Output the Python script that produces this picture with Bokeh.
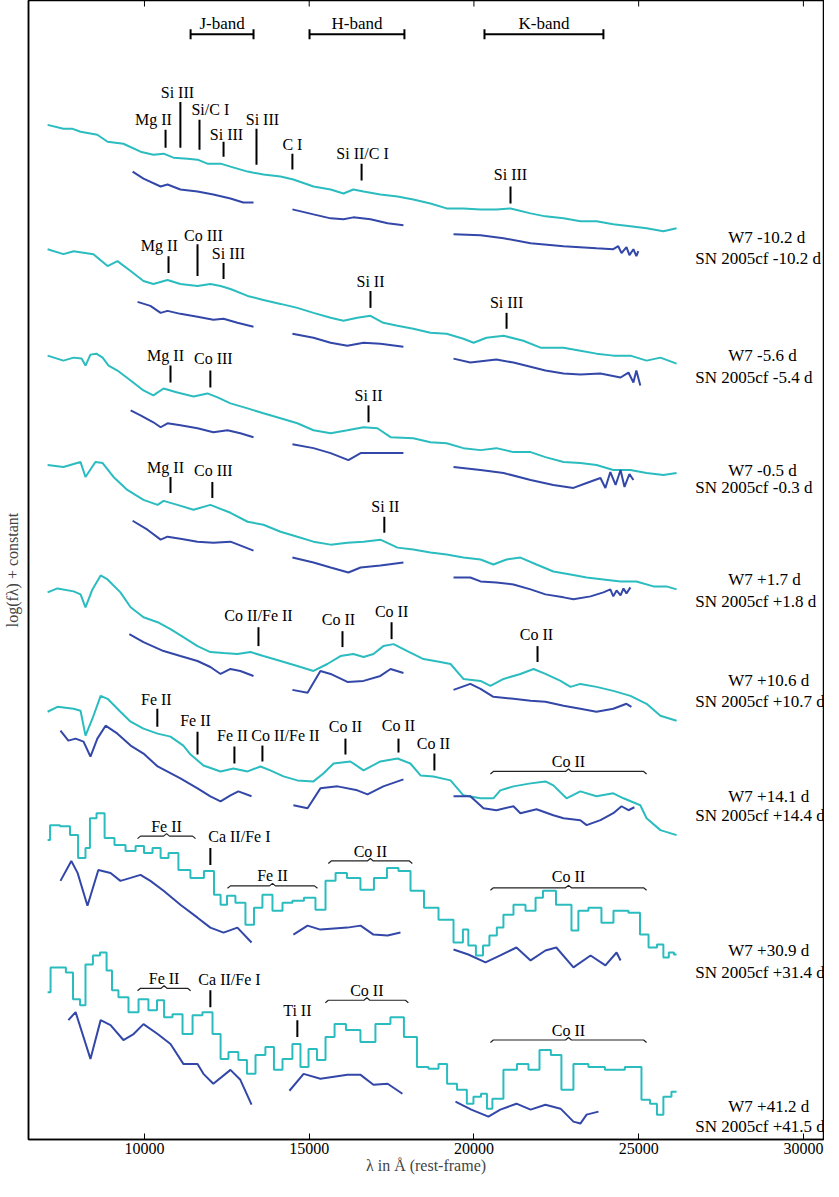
from bokeh.plotting import figure
from bokeh.models import Range1d, FixedTicker
from bokeh.core.properties import value
from bokeh.embed import file_html
from bokeh.resources import INLINE

CYAN = "#2bbcbf"
BLUE = "#3347a8"
FONT = "Liberation Serif"

XTICKS = [10000, 15000, 20000, 25000, 30000]

# ---------------- W7 model spectra (cyan) ----------------
M1_WAVE = [7060, 7540, 7820, 8060, 8570, 8880, 9360, 9880, 10270, 10580, 10880, 11310, 11610, 11910, 12310, 12610, 13130, 13610, 14130, 14520, 15130, 15650, 16040, 16340, 16650, 17160, 17680, 18160, 18680, 19170, 19680, 20200, 20680, 21110, 21720, 22170, 22720, 23230, 23720, 24230, 24750, 25240, 25750, 26150]
M1_FLUX = [10.20, 10.16, 10.16, 10.13, 10.10, 10.03, 10.01, 9.93, 9.90, 9.91, 9.87, 9.86, 9.85, 9.81, 9.81, 9.78, 9.73, 9.70, 9.68, 9.65, 9.58, 9.55, 9.51, 9.55, 9.53, 9.50, 9.48, 9.45, 9.41, 9.36, 9.36, 9.35, 9.35, 9.36, 9.31, 9.28, 9.26, 9.23, 9.23, 9.20, 9.18, 9.16, 9.13, 9.16]

M2_WAVE = [7060, 7540, 7850, 8450, 8880, 9180, 9580, 9970, 10270, 10700, 11090, 11610, 12000, 12310, 12610, 13130, 13610, 14130, 14640, 15130, 15650, 16040, 16460, 16860, 17250, 17680, 18160, 18680, 19170, 19680, 19990, 20380, 20900, 21500, 22020, 22720, 23230, 23720, 24230, 24750, 25240, 25660, 26150]
M2_FLUX = [8.95, 8.90, 8.93, 8.90, 8.78, 8.83, 8.73, 8.63, 8.60, 8.64, 8.60, 8.58, 8.60, 8.58, 8.55, 8.48, 8.44, 8.40, 8.36, 8.31, 8.26, 8.23, 8.26, 8.28, 8.21, 8.18, 8.15, 8.11, 8.10, 8.05, 8.01, 8.06, 8.08, 8.03, 7.96, 7.96, 7.93, 7.90, 7.88, 7.88, 7.83, 7.86, 7.80]

M3_WAVE = [7060, 7540, 7850, 8090, 8210, 8360, 8540, 8730, 8910, 9180, 9580, 9970, 10270, 10580, 11000, 11490, 11910, 12220, 12610, 13130, 13610, 14130, 14640, 15130, 15650, 16160, 16650, 17070, 17470, 18160, 18680, 19170, 19680, 20200, 20680, 21200, 21720, 22170, 22720, 23230, 23720, 24230, 24750, 25240, 25750, 26150]
M3_FLUX = [7.88, 7.83, 7.86, 7.85, 7.78, 7.89, 7.90, 7.86, 7.78, 7.73, 7.63, 7.53, 7.48, 7.55, 7.51, 7.47, 7.50, 7.46, 7.40, 7.35, 7.30, 7.25, 7.20, 7.13, 7.10, 7.13, 7.16, 7.15, 7.06, 7.05, 7.01, 7.00, 6.95, 6.93, 6.95, 6.91, 6.91, 6.86, 6.81, 6.80, 6.78, 6.73, 6.73, 6.70, 6.68, 6.70]

M4_WAVE = [7060, 7540, 8060, 8210, 8510, 8730, 9060, 9480, 9970, 10400, 10580, 11000, 11490, 12000, 12610, 13130, 13610, 14130, 14640, 15130, 15650, 16160, 16650, 17160, 17680, 18160, 18680, 19170, 19680, 20200, 20590, 20990, 21410, 21900, 22410, 22930, 23420, 23930, 24450, 24930, 25450, 25840, 26150]
M4_FLUX = [6.78, 6.76, 6.81, 6.66, 6.81, 6.80, 6.66, 6.53, 6.43, 6.38, 6.42, 6.38, 6.33, 6.38, 6.30, 6.21, 6.18, 6.11, 6.06, 6.01, 5.98, 6.00, 6.01, 6.03, 5.95, 5.93, 5.90, 5.88, 5.85, 5.83, 5.78, 5.83, 5.85, 5.78, 5.71, 5.68, 5.65, 5.63, 5.61, 5.61, 5.56, 5.56, 5.53]

M5_WAVE = [7060, 7360, 7850, 8060, 8210, 8420, 8670, 8880, 9270, 9580, 9970, 10400, 10790, 11180, 11610, 12000, 12400, 12820, 13220, 13610, 14130, 14640, 15130, 15550, 15950, 16340, 16650, 16950, 17250, 17560, 17980, 18470, 18980, 19290, 19680, 20200, 20500, 20900, 21410, 21810, 22170, 22630, 22930, 23230, 23720, 24230, 24750, 25240, 25660, 26150]
M5_FLUX = [5.50, 5.54, 5.51, 5.48, 5.35, 5.53, 5.67, 5.63, 5.50, 5.35, 5.25, 5.20, 5.13, 5.05, 4.96, 4.90, 4.89, 4.88, 4.90, 4.86, 4.81, 4.76, 4.71, 4.78, 4.86, 4.88, 4.85, 4.88, 4.96, 4.98, 4.91, 4.83, 4.80, 4.78, 4.63, 4.61, 4.56, 4.63, 4.68, 4.73, 4.68, 4.61, 4.55, 4.58, 4.55, 4.51, 4.46, 4.38, 4.26, 4.21]

M6_WAVE = [7060, 7360, 7850, 8060, 8210, 8420, 8670, 8880, 9270, 9580, 9970, 10400, 10790, 11180, 11400, 11790, 12310, 12700, 13130, 13520, 13820, 14220, 14640, 15130, 15430, 15740, 16250, 16650, 17160, 17680, 18070, 18380, 18770, 19290, 19680, 20200, 20590, 20800, 21200, 21720, 22170, 22410, 22810, 23230, 23720, 24230, 24540, 25050, 25240, 25660, 26150]
M6_FLUX = [4.30, 4.35, 4.33, 4.31, 4.06, 4.23, 4.46, 4.43, 4.30, 4.20, 4.13, 4.08, 4.05, 3.96, 3.87, 3.76, 3.70, 3.73, 3.70, 3.75, 3.71, 3.65, 3.61, 3.60, 3.68, 3.78, 3.80, 3.71, 3.80, 3.83, 3.78, 3.66, 3.65, 3.61, 3.46, 3.43, 3.43, 3.51, 3.55, 3.58, 3.60, 3.56, 3.43, 3.50, 3.45, 3.48, 3.43, 3.36, 3.23, 3.11, 3.06]

M7_WAVE = [7060, 7210, 7660, 7820, 8150, 8270, 8420, 8670, 8910, 9270, 9580, 9880, 10090, 10400, 10580, 10880, 11180, 11610, 12000, 12220, 12400, 12610, 12910, 13220, 13430, 13730, 14040, 14340, 14640, 15040, 15340, 15650, 15950, 16340, 16770, 17160, 17560, 17860, 18290, 18680, 19170, 19590, 19740, 19920, 20200, 20350, 20590, 20800, 20990, 21410, 21720, 22020, 22170, 22810, 23110, 23230, 23720, 24020, 24450, 24930, 25150, 25450, 25660, 25840, 25990, 26150]
M7_FLUX = [3.01, 3.16, 3.15, 3.06, 2.83, 2.93, 3.23, 3.28, 3.03, 2.96, 2.90, 2.95, 2.88, 2.93, 2.83, 2.88, 2.71, 2.63, 2.70, 2.46, 2.36, 2.45, 2.38, 2.16, 2.33, 2.46, 2.30, 2.38, 2.40, 2.43, 2.31, 2.60, 2.68, 2.63, 2.51, 2.63, 2.73, 2.70, 2.50, 2.33, 2.21, 1.98, 2.11, 1.95, 1.85, 1.95, 2.05, 2.13, 2.26, 2.36, 2.30, 2.43, 2.50, 2.36, 2.10, 2.30, 2.33, 2.18, 2.30, 2.28, 2.06, 1.93, 1.96, 1.83, 1.88, 1.86]

M8_WAVE = [7060, 7240, 7540, 7690, 7970, 8120, 8300, 8570, 8730, 8970, 9060, 9360, 9670, 9970, 10270, 10490, 10700, 11000, 11310, 11610, 11910, 12220, 12400, 12700, 13000, 13220, 13520, 13820, 14040, 14340, 14640, 14830, 15130, 15340, 15650, 15890, 16340, 16770, 17250, 17680, 18070, 18470, 18770, 19080, 19290, 19680, 19890, 20080, 20350, 20440, 20680, 21110, 21500, 21810, 22170, 22500, 22810, 23230, 23720, 24230, 24930, 25240, 25450, 25660, 25840, 26150]
M8_FLUX = [1.48, 1.73, 1.73, 1.68, 1.41, 1.35, 1.76, 1.85, 1.88, 1.70, 1.50, 1.43, 1.28, 1.41, 1.30, 1.40, 1.23, 1.26, 1.06, 1.25, 1.28, 1.06, 0.81, 0.88, 0.80, 0.66, 0.85, 0.93, 0.70, 0.81, 0.96, 0.73, 0.91, 0.80, 1.03, 1.16, 1.10, 0.98, 1.16, 1.23, 1.03, 0.73, 0.71, 0.76, 0.56, 0.50, 0.36, 0.43, 0.46, 0.31, 0.41, 0.70, 0.76, 0.70, 0.90, 0.85, 0.50, 0.76, 0.73, 0.70, 0.73, 0.40, 0.36, 0.25, 0.43, 0.48]

# histogram (step) look is strongest in the late-time models
MODEL_STEPPED = [False, False, False, False, False, False, True, True]

# ---------------- SN 2005cf observed spectra (blue), J / H / K segments ----------------
O1_J_WAVE = [9640, 9970, 10490, 10700, 11090, 11610, 12090, 12610, 13000, 13310]
O1_J_FLUX = [9.73, 9.66, 9.58, 9.60, 9.55, 9.53, 9.50, 9.46, 9.42, 9.42]
O1_H_WAVE = [14490, 15130, 15650, 16040, 16340, 16860, 17380, 17860]
O1_H_FLUX = [9.35, 9.30, 9.26, 9.25, 9.27, 9.25, 9.21, 9.19]
O1_K_WAVE = [19380, 20200, 20900, 21720, 22720, 23720, 24230, 24380, 24480, 24630, 24720, 24840, 24930, 24990]
O1_K_FLUX = [9.10, 9.09, 9.06, 9.01, 8.98, 8.96, 8.95, 8.98, 8.91, 8.97, 8.89, 8.95, 8.88, 8.93]

O2_J_WAVE = [9790, 10180, 10490, 10700, 11090, 11610, 12090, 12400, 12820, 13310]
O2_J_FLUX = [8.42, 8.38, 8.31, 8.33, 8.30, 8.27, 8.24, 8.25, 8.21, 8.17]
O2_H_WAVE = [14490, 15130, 15650, 16160, 16650, 17160, 17860]
O2_H_FLUX = [8.10, 8.06, 8.01, 7.98, 8.01, 8.00, 7.97]
O2_K_WAVE = [19380, 19890, 20680, 21200, 22170, 22720, 23230, 23840, 24450, 24690, 24840, 24930, 25050]
O2_K_FLUX = [7.85, 7.81, 7.84, 7.81, 7.73, 7.70, 7.69, 7.70, 7.66, 7.71, 7.61, 7.73, 7.58]

O3_J_WAVE = [9580, 9880, 10270, 10490, 10700, 11090, 11610, 12090, 12520, 12910, 13310]
O3_J_FLUX = [7.33, 7.28, 7.21, 7.16, 7.20, 7.18, 7.15, 7.11, 7.13, 7.10, 7.06]
O3_H_WAVE = [14490, 15130, 15650, 16190, 16560, 17160, 17860]
O3_H_FLUX = [6.99, 6.95, 6.90, 6.83, 6.90, 6.90, 6.90]
O3_K_WAVE = [19380, 20200, 20900, 21720, 22410, 23020, 23420, 23840, 23990, 24140, 24300, 24450, 24570, 24720, 24840]
O3_K_FLUX = [6.76, 6.73, 6.70, 6.63, 6.58, 6.55, 6.60, 6.65, 6.55, 6.71, 6.58, 6.73, 6.56, 6.69, 6.63]

O4_J_WAVE = [9640, 10090, 10490, 10700, 11090, 11610, 12090, 12610, 13000, 13310]
O4_J_FLUX = [6.22, 6.13, 6.03, 6.06, 6.04, 6.01, 6.00, 6.01, 5.96, 5.92]
O4_H_WAVE = [14490, 15130, 15650, 16190, 16560, 17160, 17860]
O4_H_FLUX = [5.85, 5.80, 5.75, 5.70, 5.75, 5.77, 5.80]
O4_K_WAVE = [19380, 19890, 20200, 20680, 21200, 21720, 22170, 22720, 23020, 23540, 23930, 24140, 24230, 24330, 24450, 24540, 24630, 24750]
O4_K_FLUX = [5.65, 5.65, 5.61, 5.60, 5.58, 5.53, 5.48, 5.45, 5.43, 5.46, 5.50, 5.53, 5.46, 5.52, 5.47, 5.54, 5.49, 5.55]

O5_J_WAVE = [9540, 9970, 10580, 11090, 11610, 12000, 12310, 12610, 12910, 13310]
O5_J_FLUX = [5.08, 5.00, 4.91, 4.86, 4.81, 4.75, 4.68, 4.73, 4.71, 4.66]
O5_H_WAVE = [14490, 14950, 15340, 15650, 16160, 16650, 17160, 17470, 17860]
O5_H_FLUX = [4.52, 4.49, 4.71, 4.68, 4.60, 4.61, 4.66, 4.73, 4.69]
O5_K_WAVE = [19380, 19890, 20200, 20590, 21200, 21720, 22170, 22720, 23230, 23720, 24230, 24630, 24780]
O5_K_FLUX = [4.52, 4.58, 4.53, 4.45, 4.43, 4.41, 4.40, 4.36, 4.33, 4.30, 4.33, 4.38, 4.35]

O6_J_WAVE = [7450, 7690, 7910, 8150, 8360, 8570, 8820, 9180, 9580, 9970, 10400, 11090, 11610, 12000, 12310, 12610, 12850, 13250]
O6_J_FLUX = [4.11, 4.01, 4.03, 4.00, 3.85, 4.03, 4.16, 4.08, 3.96, 3.88, 3.75, 3.63, 3.53, 3.45, 3.40, 3.46, 3.50, 3.45]
O6_H_WAVE = [14520, 14950, 15340, 15860, 16460, 16770, 17250, 17860]
O6_H_FLUX = [3.36, 3.33, 3.53, 3.55, 3.51, 3.47, 3.55, 3.62]
O6_K_WAVE = [19380, 19890, 20290, 20680, 21200, 21410, 21900, 22410, 22720, 23230, 23420, 23840, 24230, 24480, 24690, 24870]
O6_K_FLUX = [3.45, 3.45, 3.33, 3.31, 3.35, 3.28, 3.32, 3.26, 3.23, 3.21, 3.16, 3.21, 3.28, 3.35, 3.31, 3.34]

O7_J_WAVE = [7450, 7780, 7970, 8270, 8600, 8970, 9270, 9580, 9880, 10180, 10580, 11090, 11610, 12000, 12400, 12820, 13250]
O7_J_FLUX = [2.60, 2.80, 2.68, 2.35, 2.71, 2.68, 2.60, 2.63, 2.66, 2.60, 2.50, 2.36, 2.23, 2.13, 2.08, 2.13, 1.98]
O7_H_WAVE = [14520, 14950, 15340, 16160, 16560, 16950, 17380, 17770]
O7_H_FLUX = [2.06, 2.15, 2.11, 2.13, 2.15, 2.06, 2.05, 2.08]
O7_K_WAVE = [19380, 19830, 20350, 20800, 21290, 21720, 22170, 22500, 23020, 23540, 23990, 24330, 24450]
O7_K_FLUX = [1.91, 1.86, 1.78, 1.85, 1.93, 1.80, 1.90, 1.93, 1.73, 1.85, 1.75, 1.88, 1.80]

O8_J_WAVE = [7690, 7910, 8360, 8670, 8970, 9360, 9670, 9970, 10400, 10790, 11180, 11610, 11790, 12090, 12610, 12910, 13250]
O8_J_FLUX = [1.20, 1.28, 0.81, 1.20, 1.15, 1.00, 1.06, 1.16, 1.06, 0.96, 0.76, 0.76, 0.66, 0.56, 0.70, 0.60, 0.35]
O8_H_WAVE = [14400, 14830, 15340, 16160, 16560, 16950, 17380, 17830]
O8_H_FLUX = [0.49, 0.66, 0.61, 0.65, 0.65, 0.55, 0.56, 0.46]
O8_K_WAVE = [19440, 19920, 20440, 20800, 21290, 21720, 22170, 22630, 23020, 23230, 23420, 23780]
O8_K_FLUX = [0.38, 0.30, 0.23, 0.30, 0.36, 0.30, 0.35, 0.31, 0.18, 0.16, 0.25, 0.28]

# ---------------- epoch labels ----------------
MODEL_LABELS = ["W7 -10.2 d", "W7 -5.6 d", "W7 -0.5 d", "W7 +1.7 d", "W7 +10.6 d", "W7 +14.1 d", "W7 +30.9 d", "W7 +41.2 d"]
OBS_LABELS = ["SN 2005cf -10.2 d", "SN 2005cf -5.4 d", "SN 2005cf -0.3 d", "SN 2005cf +1.8 d", "SN 2005cf +10.7 d", "SN 2005cf +14.4 d", "SN 2005cf +31.4 d", "SN 2005cf +41.5 d"]
MODEL_LABEL_Y = [9.07, 7.88, 6.73, 5.63, 4.61, 3.45, 1.90, 0.33]
OBS_LABEL_Y = [8.86, 7.66, 6.55, 5.41, 4.40, 3.26, 1.68, 0.13]
MODEL_LABEL_X = 27720
OBS_LABEL_X = 26720

# ---------------- line identifications (single lines) ----------------
ID_TEXT = ["Mg II", "Si III", "Si/C I", "Si III", "Si III", "C I", "Si II/C I", "Si III",
           "Mg II", "Co III", "Si III", "Si II", "Si III",
           "Mg II", "Co III", "Si II",
           "Mg II", "Co III", "Si II",
           "Co II/Fe II", "Co II", "Co II", "Co II",
           "Fe II", "Fe II", "Fe II", "Co II/Fe II", "Co II", "Co II", "Co II",
           "Ca II/Fe I",
           "Ca II/Fe I", "Ti II"]
ID_TEXT_X = [10270, 11000, 12000, 12490, 13580, 14490, 16620, 21110,
             10450, 11790, 12550, 16860, 20990,
             10640, 12090, 16800,
             10640, 12090, 17310,
             13460, 15890, 17500, 21900,
             10360, 11550, 12670, 14280, 16100, 17710, 18770,
             12880,
             12580, 14640]
ID_TEXT_Y = [10.25, 10.53, 10.35, 10.10, 10.25, 10.00, 9.91, 9.70,
             8.99, 9.09, 8.91, 8.63, 8.41,
             7.88, 7.85, 7.48,
             6.76, 6.73, 6.36,
             5.27, 5.23, 5.31, 5.08,
             4.42, 4.21, 4.06, 4.06, 4.15, 4.16, 3.98,
             3.05,
             1.61, 1.30]
ID_TICK_X = [10640, 11090, 11670, 12400, 13400, 14490, 16590, 21110,
             10730, 11610, 12400, 16860, 20990,
             10790, 12000, 16800,
             10790, 12060, 17280,
             13460, 16010, 17500, 21930,
             10390, 11610, 12730, 13580, 16100, 17710, 18800,
             12000,
             12000, 14640]
ID_TICK_TOP = [10.15, 10.43, 10.25, 10.03, 10.16, 9.91, 9.81, 9.58,
               8.88, 9.00, 8.81, 8.53, 8.31,
               7.78, 7.73, 7.38,
               6.66, 6.61, 6.26,
               5.15, 5.11, 5.20, 4.96,
               4.33, 4.10, 3.95, 3.96, 4.03, 4.03, 3.88,
               2.93,
               1.50, 1.20]
ID_TICK_BOT = [9.97, 9.97, 9.95, 9.88, 9.80, 9.75, 9.64, 9.41,
               8.71, 8.68, 8.65, 8.36, 8.15,
               7.61, 7.56, 7.21,
               6.50, 6.45, 6.10,
               4.96, 4.95, 5.03, 4.80,
               4.15, 3.87, 3.78, 3.80, 3.87, 3.89, 3.71,
               2.76,
               1.33, 1.03]

# ---------------- blended features (braces) ----------------
BR_TEXT = ["Co II", "Fe II", "Fe II", "Co II", "Co II", "Fe II", "Co II", "Co II"]
BR_X0 = [20500, 9790, 12520, 15580, 20500, 9790, 15490, 20500]
BR_X1 = [25240, 11550, 15250, 18130, 25240, 11400, 18010, 25240]
BR_Y = [3.70, 3.05, 2.55, 2.80, 2.53, 1.52, 1.40, 1.00]
BR_TEXT_Y = [3.80, 3.15, 2.65, 2.90, 2.64, 1.62, 1.50, 1.10]

# ---------------- photometric bands ----------------
BAND_TEXT = ["J-band", "H-band", "K-band"]
BAND_X0 = [11400, 15010, 20320]
BAND_X1 = [13310, 17890, 23930]
BAND_Y = 11.11
BAND_TEXT_Y = 11.22

MODELS = [(M1_WAVE, M1_FLUX), (M2_WAVE, M2_FLUX), (M3_WAVE, M3_FLUX), (M4_WAVE, M4_FLUX),
          (M5_WAVE, M5_FLUX), (M6_WAVE, M6_FLUX), (M7_WAVE, M7_FLUX), (M8_WAVE, M8_FLUX)]
OBSERVED = [
    [(O1_J_WAVE, O1_J_FLUX), (O1_H_WAVE, O1_H_FLUX), (O1_K_WAVE, O1_K_FLUX)],
    [(O2_J_WAVE, O2_J_FLUX), (O2_H_WAVE, O2_H_FLUX), (O2_K_WAVE, O2_K_FLUX)],
    [(O3_J_WAVE, O3_J_FLUX), (O3_H_WAVE, O3_H_FLUX), (O3_K_WAVE, O3_K_FLUX)],
    [(O4_J_WAVE, O4_J_FLUX), (O4_H_WAVE, O4_H_FLUX), (O4_K_WAVE, O4_K_FLUX)],
    [(O5_J_WAVE, O5_J_FLUX), (O5_H_WAVE, O5_H_FLUX), (O5_K_WAVE, O5_K_FLUX)],
    [(O6_J_WAVE, O6_J_FLUX), (O6_H_WAVE, O6_H_FLUX), (O6_K_WAVE, O6_K_FLUX)],
    [(O7_J_WAVE, O7_J_FLUX), (O7_H_WAVE, O7_H_FLUX), (O7_K_WAVE, O7_K_FLUX)],
    [(O8_J_WAVE, O8_J_FLUX), (O8_H_WAVE, O8_H_FLUX), (O8_K_WAVE, O8_K_FLUX)],
]

Y_TOP = 11.45
p = figure(x_range=Range1d(6480, 30610), y_range=Range1d(0, Y_TOP),
           frame_width=795, frame_height=1139,
           min_border_left=27, min_border_right=1, min_border_top=0, min_border_bottom=42,
           output_backend="svg", toolbar_location=None)
p.xgrid.visible = False
p.ygrid.visible = False
p.outline_line_color = "black"
p.outline_line_width = 1.5
p.outline_line_alpha = 1.0

xa = p.xaxis[0]
xa.ticker = FixedTicker(ticks=XTICKS)
xa.major_tick_in = 6
xa.major_tick_out = 0
xa.minor_tick_in = 0
xa.minor_tick_out = 0
xa.axis_line_width = 1.5
xa.major_label_text_font = FONT
xa.major_label_text_font_size = "16px"
xa.major_label_text_color = "black"
xa.major_label_standoff = 3
xa.axis_label = "λ in Å (rest-frame)"
xa.axis_label_text_font = FONT
xa.axis_label_text_font_size = "16px"
xa.axis_label_text_font_style = "normal"
xa.axis_label_standoff = 0

ya = p.yaxis[0]
ya.ticker = FixedTicker(ticks=[])
ya.minor_tick_in = 0
ya.minor_tick_out = 0
ya.axis_line_width = 1.5
ya.axis_label = "log(fλ) + constant"
ya.axis_label_text_font = FONT
ya.axis_label_text_font_size = "16px"
ya.axis_label_text_font_style = "normal"
ya.axis_label_standoff = 8

# inward ticks along the top edge of the frame (the half outside is clipped)
p.scatter(x=XTICKS, y=[Y_TOP] * len(XTICKS), marker="dash", angle=1.5708, size=12,
          line_color="black", line_width=1)

for (wave, flux), stepped in zip(MODELS, MODEL_STEPPED):
    if stepped:
        p.step(x=wave, y=flux, mode="center", line_color=CYAN, line_width=2)
    else:
        p.line(x=wave, y=flux, line_color=CYAN, line_width=2)
for segs in OBSERVED:
    for wave, flux in segs:
        p.line(x=wave, y=flux, line_color=BLUE, line_width=2)

# line identification ticks and labels
p.segment(x0=ID_TICK_X, y0=ID_TICK_TOP, x1=ID_TICK_X, y1=ID_TICK_BOT,
          line_color="black", line_width=2)
p.text(x=ID_TEXT_X, y=ID_TEXT_Y, text=ID_TEXT, text_font=value(FONT),
       text_font_size="16px", text_align="center", text_baseline="middle", text_color="black")

# braces over blended features
dx, dy = 90, 0.025
br_xs, br_ys, br_tx = [], [], []
for x0, x1, y in zip(BR_X0, BR_X1, BR_Y):
    xm = 0.5 * (x0 + x1)
    br_xs.append([x0, x0 + dx, xm - dx, xm, xm + dx, x1 - dx, x1])
    br_ys.append([y - dy, y, y, y + dy, y, y, y - dy])
    br_tx.append(xm)
p.multi_line(xs=br_xs, ys=br_ys, line_color="#222222", line_width=1.2)
p.text(x=br_tx, y=BR_TEXT_Y, text=BR_TEXT, text_font=value(FONT),
       text_font_size="16px", text_align="center", text_baseline="middle", text_color="black")

# photometric band bars
band_y = [BAND_Y] * len(BAND_X0)
p.segment(x0=BAND_X0, y0=band_y, x1=BAND_X1, y1=band_y, line_color="black", line_width=2)
p.scatter(x=BAND_X0 + BAND_X1, y=band_y + band_y, marker="dash", angle=1.5708, size=10,
          line_color="black", line_width=2)
p.text(x=[0.5 * (a + b) for a, b in zip(BAND_X0, BAND_X1)], y=[BAND_TEXT_Y] * len(BAND_X0),
       text=BAND_TEXT, text_font=value(FONT), text_font_size="17px",
       text_align="center", text_baseline="middle", text_color="black")

# epoch labels on the right
p.text(x=[MODEL_LABEL_X] * len(MODEL_LABELS), y=MODEL_LABEL_Y, text=MODEL_LABELS,
       text_font=value(FONT), text_font_size="17px", text_align="left",
       text_baseline="middle", text_color="black")
p.text(x=[OBS_LABEL_X] * len(OBS_LABELS), y=OBS_LABEL_Y, text=OBS_LABELS,
       text_font=value(FONT), text_font_size="17px", text_align="left",
       text_baseline="middle", text_color="black")

open("out.html", "w").write(file_html(p, INLINE))
